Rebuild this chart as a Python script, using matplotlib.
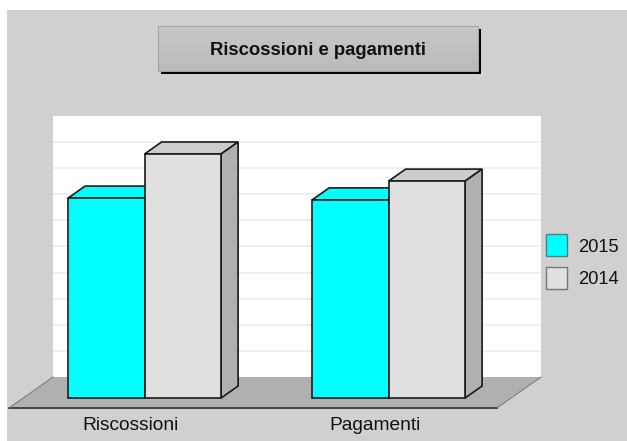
import numpy as np, matplotlib
matplotlib.use('Agg')
import matplotlib.pyplot as plt
from matplotlib.colors import LinearSegmentedColormap
from matplotlib.patches import Polygon, Rectangle

W, H = 627, 441
plt.rcParams['font.family'] = ['Liberation Sans', 'DejaVu Sans']

title = 'Riscossioni e pagamenti'
categories = ['Riscossioni', 'Pagamenti']
series_names = ['2015', '2014']
values_2015 = [7.66, 7.59]
values_2014 = [9.35, 8.31]
grid_levels = [1, 2, 3, 4, 5, 6, 7, 8, 9]

PANEL = '#d0d0d0'; FLOOR = '#b0b0b0'; GRIDC = '#ebebeb'; EDGE = '#1a1a1a'
CYAN = '#00ffff'; LGREY = '#e0e0e0'; TOPG = '#cccccc'; SIDEG = '#b0b0b0'

# scale: one bar is 76.5 px wide, one value unit is 26.1 px, base line at y=398
XS, YS = 76.5, 26.1
X0, Y0 = 144.6, 398
GROUP_STEP = 244 / XS
DX, DY = 17 / XS, 12 / YS

fig = plt.figure(figsize=(W / 100, H / 100), dpi=100, facecolor='white')
ax = fig.add_axes([0, 0, 1, 1])

def px(x, y):
    return ((x - X0) / XS, (Y0 - y) / YS)

def pxpoly(pts, **kw):
    ax.add_patch(Polygon([px(*p) for p in pts], closed=True, **kw))

def pxrect(x0, y0, x1, y1, **kw):
    xa, ya = px(x0, y1); xb, yb = px(x1, y0)
    ax.add_patch(Rectangle((xa, ya), xb - xa, yb - ya, **kw))

# background panel
pxrect(7, 10, 627, 441, facecolor=PANEL, edgecolor='none', zorder=0)

# back wall + grid
pxrect(53, 116, 541, 377, facecolor='white', edgecolor='none', zorder=1)
wall_l, wall_b = px(53, 377); wall_r, _ = px(541, 377)
for g in grid_levels:
    yy = wall_b + g * (261 / 10) / YS
    ax.plot([wall_l, wall_r], [yy, yy], color=GRIDC, lw=1.2, zorder=1.5, solid_capstyle='butt')

# floor
pxpoly([(53, 377), (541, 377), (497, 408), (9, 408)], facecolor=FLOOR, edgecolor='none', zorder=2)
ax.plot(*zip(px(9, 408), px(497, 408)), color='#444444', lw=1.4, zorder=2.5)
ax.plot(*zip(px(9, 408), px(53, 377)), color='#777777', lw=0.7, zorder=2.5)
ax.plot(*zip(px(497, 408), px(541, 377)), color='#777777', lw=0.7, zorder=2.5)

# bars, back series first so the front faces overlap correctly
x_pos = np.arange(len(categories)) * GROUP_STEP
for off, vals, col, z in [(-1, values_2015, CYAN, 3), (0, values_2014, LGREY, 4)]:
    for xp, v in zip(x_pos, vals):
        x0 = xp + off; x1 = x0 + 1
        top_col = CYAN if col == CYAN else TOPG
        ax.add_patch(Polygon([(x0, v), (x1, v), (x1 + DX, v + DY), (x0 + DX, v + DY)], closed=True,
                             facecolor=top_col, edgecolor=EDGE, lw=1.2, zorder=z))
        ax.add_patch(Polygon([(x1, 0), (x1 + DX, DY), (x1 + DX, v + DY), (x1, v)], closed=True,
                             facecolor=SIDEG if col != CYAN else '#00b0b0', edgecolor=EDGE, lw=1.2, zorder=z))
        ax.bar(x0, v, width=1, align='edge', color=col, edgecolor=EDGE, lw=1.2, zorder=z + 0.5)

# category labels
for xp, c in zip(x_pos, categories):
    lx = xp - 14 / XS
    ax.text(lx, px(0, 430)[1], c, ha='center', va='baseline', fontsize=13.8, color='#111111', zorder=6)

# title box with shadow and a soft gradient
pxrect(161, 29, 481, 74, facecolor='black', edgecolor='none', zorder=6)
bx0, by1 = px(158, 26); bx1, by0 = px(478, 71)
grad = np.linspace(0, 1, 64).reshape(-1, 1)
cmap = LinearSegmentedColormap.from_list('g', ['#c8c8c8', '#bababa'])
ax.imshow(grad, extent=[bx0, bx1, by0, by1], cmap=cmap, aspect='auto', origin='upper', zorder=7)
pxrect(158, 26, 478, 71, facecolor='none', edgecolor='#a4a4a4', lw=0.8, zorder=8)
tx, ty = px(318, 55)
ax.text(tx, ty, title, ha='center', va='baseline', fontsize=13.3, fontweight='bold', color='#111111', zorder=9)

# legend
for (y0, base, name, col, ec) in [(234, 252.5, series_names[0], CYAN, '#4f7f7f'), (267, 284.5, series_names[1], LGREY, '#777777')]:
    pxrect(545.5, y0, 567, y0 + 22, facecolor=col, edgecolor=ec, lw=1.0, zorder=6)
    lx, ly = px(578, base)
    ax.text(lx, ly, name, ha='left', va='baseline', fontsize=13.2, color='#111111', zorder=6)

# limits go last, imshow resets them
ax.set_xlim(-X0 / XS, (W - X0) / XS)
ax.set_ylim(-(H - Y0) / YS, Y0 / YS)
ax.set_aspect('auto')
ax.axis('off')

fig.savefig('out.png', dpi=100, facecolor='white')
